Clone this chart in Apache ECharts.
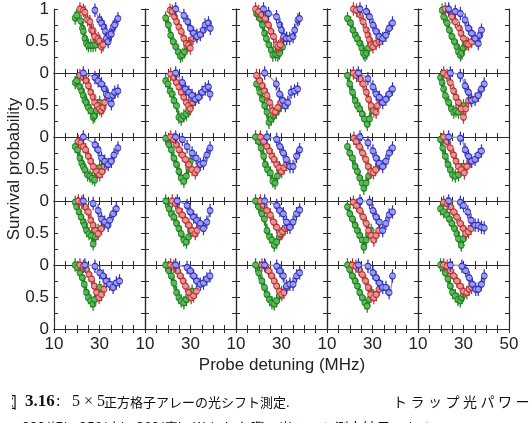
<!DOCTYPE html>
<html>
<head>
<meta charset="utf-8">
<style>
  html, body { margin: 0; padding: 0; background: #fff; }
  #chart { width: 532px; height: 423px; }
</style>
<script src="https://cdn.jsdelivr.net/npm/echarts@6/dist/echarts.min.js"></script>
</head>
<body>
<div id="chart"></div>
<script>
// 5x5 trap array, light shift scans. panel k = row*5 + col
// green = 332, red = 358, blue = 382

const greenX = [
  [19.3,20.0,21.9,22.5,22.9,23.6,24.3,25.1,26.2,27.2,28.3,29.4],
  [19.1,20.3,21.3,22.4,23.6,24.6,25.6,26.4,27.4,28.4,29.3],
  [19.0,20.5,21.6,22.6,23.3,24.5,25.5,26.2,27.4,28.4,29.1,30.5],
  [19.0,20.4,21.4,22.5,23.2,24.6,25.3,26.0,26.7,27.5,28.2,28.9],
  [20.6,21.3,22.8,23.8,24.9,26.1,27.1,27.8,28.6,29.3,30.0,30.7],
  [19.3,20.0,21.4,22.2,22.9,23.6,24.3,25.1,26.2,27.2,27.9,28.7,29.4,30.1],
  [19.1,20.1,21.0,22.0,22.7,23.9,24.9,25.9,27.1,28.2,29.2,29.9],
  [19.0,20.5,21.6,22.6,23.6,24.5,25.5,26.5,27.7,28.8,29.8],
  [19.0,20.0,21.2,22.4,23.4,24.4,25.5,26.5,27.7,28.7,29.6],
  [19.9,20.6,21.3,22.0,23.5,24.7,25.7,26.7,27.8,29.0,30.0],
  [19.3,20.4,21.4,22.2,22.9,23.6,24.8,25.8,26.8,27.9,29.1,30.1],
  [19.1,20.6,21.6,22.7,23.9,24.9,25.9,27.1,28.2,29.2,29.9],
  [18.6,20.0,21.0,22.2,22.9,23.9,25.1,26.2,27.2,28.2,29.4],
  [19.0,20.0,21.2,22.4,23.4,24.4,25.5,26.2,27.2,28.3,29.4],
  [19.9,20.9,22.0,23.2,24.2,25.2,26.4,27.8,29.0,30.0],
  [19.3,20.0,21.0,21.9,22.9,23.6,24.3,25.4,26.5,27.2,28.3,29.4],
  [19.1,20.6,21.6,22.7,23.9,24.9,25.9,27.1,28.2,29.2,29.9],
  [18.6,20.0,21.4,22.5,23.6,24.8,25.8,26.8,27.9,29.1,30.1],
  [19.0,20.0,21.2,22.4,23.4,24.4,25.5,26.2,27.2,28.3,29.4],
  [19.9,21.3,22.8,23.8,24.9,26.1,27.1,27.8,29.0,30.0,31.0],
  [19.3,20.4,21.4,22.5,23.3,24.3,25.1,26.2,27.2,27.9,29.1,30.1],
  [19.1,20.6,21.6,22.7,23.9,24.9,25.9,27.1,28.2,29.2,30.7],
  [18.6,20.0,21.4,22.5,23.6,24.8,25.8,26.8,27.9,29.1,30.1],
  [19.0,20.0,21.2,22.4,23.4,24.4,25.5,26.7,27.7,28.7,29.6],
  [19.9,20.9,22.0,23.2,24.2,25.2,26.4,27.6,28.6,29.3,30.0]
]
const greenY = [
  [0.86,0.90,0.81,0.70,0.65,0.54,0.46,0.43,0.43,0.43,0.44,0.49],
  [0.86,0.75,0.59,0.49,0.41,0.33,0.26,0.28,0.33,0.41,0.46],
  [0.93,0.85,0.75,0.62,0.54,0.44,0.36,0.28,0.29,0.28,0.31,0.41],
  [0.85,0.78,0.67,0.59,0.54,0.46,0.39,0.31,0.28,0.31,0.39,0.49],
  [0.98,0.88,0.78,0.67,0.57,0.49,0.41,0.33,0.28,0.31,0.39,0.46],
  [0.85,0.88,0.78,0.72,0.65,0.57,0.54,0.46,0.41,0.31,0.33,0.41,0.49,0.54],
  [0.88,0.83,0.72,0.67,0.57,0.49,0.31,0.28,0.33,0.36,0.41,0.49],
  [0.83,0.70,0.59,0.49,0.39,0.23,0.28,0.33,0.39,0.44,0.49],
  [0.96,0.83,0.70,0.57,0.49,0.44,0.36,0.28,0.20,0.28,0.44],
  [0.93,0.85,0.75,0.65,0.54,0.44,0.39,0.41,0.39,0.44,0.49],
  [0.85,0.80,0.67,0.59,0.54,0.49,0.41,0.39,0.36,0.33,0.44,0.52],
  [0.98,0.88,0.80,0.67,0.57,0.46,0.36,0.31,0.39,0.52,0.62],
  [1.00,0.93,0.83,0.70,0.57,0.49,0.44,0.31,0.28,0.39,0.49],
  [0.85,0.75,0.67,0.54,0.46,0.36,0.28,0.20,0.28,0.39,0.46],
  [0.96,0.83,0.70,0.57,0.49,0.41,0.39,0.41,0.49,0.54],
  [0.98,0.91,0.83,0.75,0.67,0.62,0.54,0.49,0.46,0.33,0.44,0.54],
  [1.00,0.88,0.80,0.75,0.65,0.57,0.49,0.39,0.36,0.44,0.54],
  [1.00,0.91,0.80,0.72,0.54,0.44,0.39,0.31,0.36,0.44,0.49],
  [0.91,0.80,0.72,0.62,0.54,0.46,0.39,0.28,0.39,0.49,0.54],
  [0.88,0.83,0.78,0.72,0.65,0.57,0.49,0.41,0.31,0.41,0.49],
  [1.00,0.96,0.88,0.80,0.70,0.57,0.49,0.44,0.39,0.46,0.54,0.65],
  [1.00,0.91,0.83,0.72,0.57,0.49,0.44,0.41,0.46,0.52,0.59],
  [1.00,0.88,0.75,0.65,0.54,0.46,0.41,0.39,0.44,0.52,0.57],
  [1.00,0.93,0.83,0.75,0.67,0.57,0.49,0.41,0.36,0.46,0.57],
  [1.00,0.96,0.88,0.78,0.67,0.57,0.52,0.46,0.44,0.49,0.54]
]

const redX = [
  [21.4,22.9,23.6,24.8,25.8,26.5,27.2,27.9,29.4,30.1,30.9,31.6],
  [21.0,22.0,23.0,23.9,24.9,25.9,27.1,28.2,29.2,29.9,31.1,32.8],
  [18.6,20.0,21.4,22.9,24.3,25.4,26.5,27.7,28.7,29.4,30.9,32.3],
  [21.6,23.0,24.5,25.9,27.3,28.0,28.7,29.4,30.2,31.6,33.0],
  [22.0,23.5,24.9,26.4,28.2,28.9,30.0,31.5,32.2,33.6],
  [21.4,22.9,24.3,25.1,26.2,27.2,27.9,29.1,30.1,30.9,31.6,32.3],
  [21.3,22.7,23.9,24.9,25.9,27.1,28.2,29.2,29.9,31.1,32.1,33.6],
  [19.0,20.5,21.6,22.6,23.6,24.8,26.2,27.4,28.4,29.8],
  [21.6,23.0,24.5,25.9,27.3,28.3,29.4,30.6,31.6,32.3,33.0],
  [21.3,22.8,24.2,25.7,26.7,27.8,29.0,30.0,31.0,32.2,33.3],
  [20.7,21.9,22.9,23.9,25.1,26.2,27.2,28.7,30.1,31.2,32.3],
  [21.3,22.7,23.9,24.9,26.4,27.8,29.3,30.7,32.1,32.9],
  [20.7,22.2,23.6,24.8,25.8,26.8,27.9,29.1,30.1,31.1,32.3],
  [21.8,22.8,24.3,25.7,27.1,28.1,29.3,30.4,31.4,32.9],
  [21.3,22.8,24.2,25.7,26.7,27.8,29.0,30.4,31.5,32.9],
  [20.7,22.2,23.6,25.1,26.2,27.2,28.3,29.4,30.9,32.0],
  [22.0,23.5,24.9,26.4,27.8,29.3,30.7,32.1,32.9],
  [20.7,22.2,23.6,25.1,26.5,27.9,29.4,30.5,31.6,32.6],
  [21.6,23.0,24.5,25.9,27.3,28.3,29.4,30.6,31.6,32.8],
  [21.3,22.8,24.2,25.7,27.1,28.6,30.0,31.0,32.2,33.3],
  [21.4,22.9,24.3,25.4,26.5,27.7,28.7,29.8,30.9,32.0],
  [21.3,22.7,24.2,25.6,26.8,27.8,29.3,30.3,31.4,32.6],
  [21.4,22.9,24.3,25.8,26.8,27.9,29.1,30.1,31.1,32.3],
  [21.2,22.7,24.1,25.5,27.0,28.1,29.2,30.6,31.7,32.9],
  [21.3,22.8,24.2,25.7,27.1,28.6,30.0,31.5,32.5,33.6]
]
const redY = [
  [1.00,0.98,0.95,0.83,0.80,0.67,0.66,0.57,0.54,0.50,0.41,0.44],
  [0.98,0.96,0.88,0.80,0.72,0.65,0.54,0.46,0.44,0.39,0.54,0.59],
  [1.00,0.96,0.91,0.85,0.75,0.65,0.57,0.44,0.41,0.44,0.54,0.54],
  [1.00,0.98,0.91,0.80,0.67,0.59,0.52,0.44,0.41,0.46,0.49],
  [1.00,0.98,0.88,0.80,0.70,0.62,0.54,0.46,0.45,0.49],
  [0.96,0.93,0.88,0.80,0.70,0.62,0.54,0.49,0.44,0.41,0.46,0.54],
  [0.98,0.93,0.85,0.78,0.70,0.62,0.54,0.49,0.44,0.54,0.59,0.62],
  [0.96,0.88,0.80,0.72,0.65,0.54,0.41,0.39,0.46,0.54],
  [1.00,0.96,0.91,0.83,0.70,0.59,0.49,0.41,0.39,0.49,0.59],
  [1.00,0.96,0.85,0.72,0.62,0.54,0.44,0.31,0.44,0.57,0.59],
  [0.93,0.91,0.85,0.80,0.70,0.62,0.54,0.46,0.41,0.46,0.54],
  [1.00,0.96,0.88,0.80,0.72,0.65,0.57,0.49,0.44,0.49],
  [1.00,0.93,0.85,0.78,0.70,0.65,0.57,0.52,0.46,0.52,0.57],
  [0.98,0.93,0.85,0.75,0.65,0.54,0.46,0.44,0.49,0.57],
  [1.00,0.93,0.83,0.72,0.62,0.54,0.49,0.44,0.54,0.62],
  [1.00,0.98,0.91,0.83,0.70,0.62,0.54,0.49,0.57,0.65],
  [1.00,0.96,0.85,0.78,0.70,0.62,0.54,0.49,0.54],
  [1.00,0.93,0.85,0.78,0.67,0.59,0.49,0.52,0.57,0.59],
  [0.98,0.93,0.85,0.75,0.65,0.54,0.46,0.39,0.46,0.54],
  [0.98,0.96,0.91,0.83,0.75,0.65,0.57,0.49,0.52,0.57],
  [1.00,0.98,0.93,0.85,0.78,0.67,0.57,0.49,0.54,0.62],
  [1.00,0.98,0.91,0.83,0.75,0.67,0.57,0.49,0.52,0.59],
  [1.00,0.98,0.91,0.83,0.75,0.67,0.59,0.54,0.57,0.65],
  [1.00,0.98,0.93,0.85,0.75,0.65,0.54,0.49,0.54,0.62],
  [1.00,0.98,0.91,0.83,0.75,0.67,0.59,0.57,0.62,0.65]
]

const blueX = [
  [28.0,30.1,30.9,32.0,32.6,33.0,33.8,34.5,35.2,36.0,36.7,38.1],
  [23.5,27.1,28.8,29.9,31.4,32.8,34.3,35.7,36.4,37.9,38.7],
  [22.1,24.3,27.8,29.3,30.0,31.0,32.2,33.6,35.1,35.8,37.2,37.9],
  [24.5,27.3,28.7,30.2,31.6,33.0,34.5,35.9,37.3,38.8],
  [23.5,26.4,28.6,30.7,32.2,33.6,35.1,36.5,37.2,37.9],
  [22.9,28.0,29.4,30.9,32.3,33.0,33.8,35.2,35.9,36.7,38.1],
  [23.5,26.4,27.8,29.3,30.7,32.2,33.6,35.1,36.5,37.9,38.6],
  [22.6,27.7,29.1,30.6,31.7,32.8,34.2,35.7,37.1],
  [23.8,28.0,30.2,31.6,33.0,34.5,35.9,37.3,38.8],
  [24.2,28.6,30.7,32.2,33.6,35.1,36.5,37.9,39.1],
  [22.9,28.0,29.4,30.9,32.3,33.8,35.2,36.4,38.1],
  [23.5,26.4,28.5,30.7,32.5,34.3,35.7,37.2,38.6],
  [23.6,27.9,29.3,30.8,32.2,33.7,35.1,36.6,38.0],
  [24.5,28.0,30.2,31.6,33.0,34.5,35.9,37.3,38.8],
  [23.5,28.6,30.7,32.2,33.6,35.1,36.5,37.9],
  [22.9,27.2,29.4,30.9,32.3,33.8,34.5,36.0,37.4],
  [24.2,28.5,29.9,31.4,32.8,34.3,35.7,37.2,38.6],
  [22.6,27.9,29.3,30.8,32.2,33.7,35.1,36.6,38.0],
  [24.5,28.7,30.2,31.6,33.0,34.5,35.9,37.3,38.8],
  [23.5,28.6,30.0,31.9,33.3,35.1,36.5,37.9,39.1],
  [23.6,28.0,30.1,31.6,33.0,34.5,36.0,37.4,38.8],
  [23.5,28.5,29.9,31.4,32.8,34.3,35.7,37.2,38.6],
  [22.6,27.9,29.3,30.8,32.2,33.7,35.1,36.6,38.0],
  [23.8,28.0,30.2,31.6,33.0,34.5,35.9,37.3,38.8],
  [24.2,29.3,31.0,32.5,33.9,35.4,36.5,37.9,39.1]
]
const blueY = [
  [0.98,0.83,0.78,0.72,0.65,0.54,0.49,0.59,0.61,0.72,0.75,0.85],
  [1.00,0.90,0.80,0.70,0.62,0.57,0.60,0.67,0.75,0.78,0.70],
  [1.00,0.93,0.88,0.75,0.67,0.57,0.54,0.54,0.57,0.67,0.83,0.85],
  [1.00,0.96,0.88,0.75,0.65,0.57,0.54,0.59,0.70,0.78],
  [1.00,0.96,0.93,0.83,0.70,0.62,0.54,0.46,0.59,0.67],
  [1.00,0.93,0.88,0.83,0.75,0.67,0.65,0.52,0.65,0.70,0.72],
  [1.00,0.85,0.75,0.70,0.65,0.59,0.62,0.70,0.75,0.78,0.67],
  [1.00,0.83,0.67,0.57,0.49,0.54,0.70,0.72,0.75],
  [1.00,0.91,0.78,0.67,0.62,0.54,0.59,0.67,0.75],
  [1.00,0.96,0.80,0.70,0.57,0.59,0.65,0.75,0.83],
  [1.00,0.88,0.80,0.67,0.62,0.57,0.62,0.72,0.83],
  [1.00,0.96,0.85,0.75,0.67,0.57,0.59,0.72,0.83],
  [1.00,0.96,0.85,0.75,0.65,0.54,0.54,0.70,0.80],
  [1.00,0.91,0.78,0.67,0.59,0.54,0.62,0.75,0.83],
  [1.00,0.98,0.80,0.70,0.62,0.65,0.72,0.78],
  [1.00,0.96,0.85,0.72,0.67,0.62,0.70,0.80,0.88],
  [1.00,0.93,0.83,0.75,0.70,0.65,0.57,0.67,0.85],
  [1.00,0.93,0.85,0.80,0.67,0.59,0.67,0.80,0.86],
  [1.00,0.98,0.85,0.75,0.67,0.54,0.65,0.78,0.83],
  [1.00,0.98,0.93,0.83,0.70,0.62,0.62,0.59,0.58],
  [1.00,0.98,0.88,0.83,0.75,0.70,0.65,0.72,0.75],
  [1.00,0.96,0.91,0.83,0.75,0.70,0.72,0.78,0.83],
  [1.00,0.98,0.91,0.83,0.67,0.70,0.70,0.83,0.88],
  [1.00,0.98,0.88,0.80,0.72,0.65,0.65,0.57,0.83],
  [1.00,0.98,0.91,0.80,0.70,0.62,0.62,0.70,0.83]
]

const xTickLabels = [10, 30]
const yTickLabels = [0, 0.5]

const font = '"Liberation Sans", Arial, sans-serif'
const jp = '"Noto Sans CJK JP", sans-serif'
const serif = '"Liberation Serif", serif'
const axisColor = '#2a2a2a'

// open circle with a short error bar above and below
const dotWithBar = 'path://M0,10A5,5 0 1,0 10,10A5,5 0 1,0 0,10Z' +
  'M4.6,0L5.4,0L5.4,5L4.6,5Z M4.6,15L5.4,15L5.4,20L4.6,20Z'

// marker fill, marker edge, fit line colour
const looks = [
  { fill: '#5cba5c', edge: '#1f801f', line: '#2f9a2f', lw: 2 },
  { fill: '#e89494', edge: '#b83232', line: '#b09494', lw: 1.5 },
  { fill: '#9a9aee', edge: '#3030bc', line: '#9898b0', lw: 1.5 }
]

const chart = echarts.init(document.getElementById('chart'))

const grid = []
const xAxis = []
const yAxis = []
const series = []

for (let k = 0; k < 25; k++) {
  const row = Math.floor(k / 5)
  const col = k % 5
  grid.push({ left: 54 + 91 * col, top: 9 + 64 * row, width: 91, height: 64 })

  const tick = { show: true, inside: true, length: 4, lineStyle: { color: axisColor, width: 1 } }
  const line = { show: true, lineStyle: { color: axisColor, width: 1.2 } }

  xAxis.push({
    gridIndex: k, type: 'value', min: 10, max: 50, interval: 5, position: 'bottom',
    axisLine: line, axisTick: tick, splitLine: { show: false },
    axisLabel: {
      show: row === 4, margin: 7, fontSize: 17, color: '#222', fontFamily: font,
      showMinLabel: true, showMaxLabel: true,
      formatter: v => (xTickLabels.includes(v) || (v === 50 && col === 4)) ? String(v) : ''
    }
  })
  xAxis.push({
    gridIndex: k, type: 'value', min: 10, max: 50, interval: 5, position: 'top',
    axisLine: line, axisTick: tick, splitLine: { show: false }, axisLabel: { show: false }
  })
  yAxis.push({
    gridIndex: k, type: 'value', min: 0, max: 1, interval: 0.25, position: 'left',
    axisLine: line, axisTick: tick, splitLine: { show: false },
    axisLabel: {
      show: col === 0, margin: 5, fontSize: 17, color: '#222', fontFamily: font,
      showMinLabel: true, showMaxLabel: true,
      formatter: v => (yTickLabels.includes(v) || (v === 1 && row === 0)) ? String(v) : ''
    }
  })
  yAxis.push({
    gridIndex: k, type: 'value', min: 0, max: 1, interval: 0.25, position: 'right',
    axisLine: line, axisTick: tick, splitLine: { show: false }, axisLabel: { show: false }
  })

  const sets = [[greenX, greenY], [redX, redY], [blueX, blueY]]
  sets.forEach(([xs, ys], i) => {
    const lk = looks[i]
    series.push({
      type: 'line', xAxisIndex: 2 * k, yAxisIndex: 2 * k,
      data: xs[k].map((x, j) => [x, ys[k][j]]),
      smooth: 0.4,
      symbol: dotWithBar, symbolSize: [6, 12], showAllSymbol: true,
      lineStyle: { color: lk.line, width: lk.lw },
      itemStyle: { color: lk.fill, borderColor: lk.edge, borderWidth: 1 },
      z: 2 + i,
      silent: true
    })
  })
}

chart.setOption({
  animation: false,
  backgroundColor: '#fff',
  grid, xAxis, yAxis, series,
  graphic: [
    {
      type: 'text', x: 14, y: 169, rotation: Math.PI / 2,
      style: { text: 'Survival probability', fontSize: 17, fontFamily: font, fill: '#222',
        textAlign: 'center', textVerticalAlign: 'middle' }
    },
    {
      type: 'text', x: 282, y: 365,
      style: { text: 'Probe detuning (MHz)', fontSize: 17, fontFamily: font, fill: '#222',
        textAlign: 'center', textVerticalAlign: 'middle' }
    },
    // caption, first line
    { type: 'text', x: 1, y: 402, style: { text: '図', fontSize: 16, fontFamily: jp, fill: '#111', textVerticalAlign: 'middle' } },
    { type: 'rect', shape: { x: 0, y: 390, width: 12, height: 24 }, style: { fill: '#fff' }, z: 10 },
    { type: 'text', x: 25, y: 402, style: { text: '3.16', fontSize: 17, fontWeight: 'bold', fontFamily: serif, fill: '#111', textVerticalAlign: 'middle' } },
    { type: 'text', x: 56, y: 402, style: { text: ':', fontSize: 16, fontFamily: serif, fill: '#111', textVerticalAlign: 'middle' } },
    { type: 'text', x: 72, y: 402, style: { text: '5 × 5', fontSize: 16, fontFamily: serif, fill: '#111', textVerticalAlign: 'middle' } },
    { type: 'text', x: 104, y: 402, style: { text: '正方格子アレーの光シフト測定.', fontSize: 13, fontFamily: jp, fill: '#111', textVerticalAlign: 'middle' } },
    ...'トラップ光パワー'.split('').map((ch, i) => ({
      type: 'text', x: 393 + i * 17.5, y: 402,
      style: { text: ch, fontSize: 14, fontFamily: jp, fill: '#111', textVerticalAlign: 'middle' }
    })),
    // caption, second line (cut off by the bottom edge)
    { type: 'text', x: 2, y: 421, style: { text: 'ー  332(緑),  358(赤),  382(青).  W とした際の光シフト測定結果である.', fontSize: 14, fontFamily: jp, fill: '#111', textVerticalAlign: 'top' } }
  ]
})
</script>
</body>
</html>
